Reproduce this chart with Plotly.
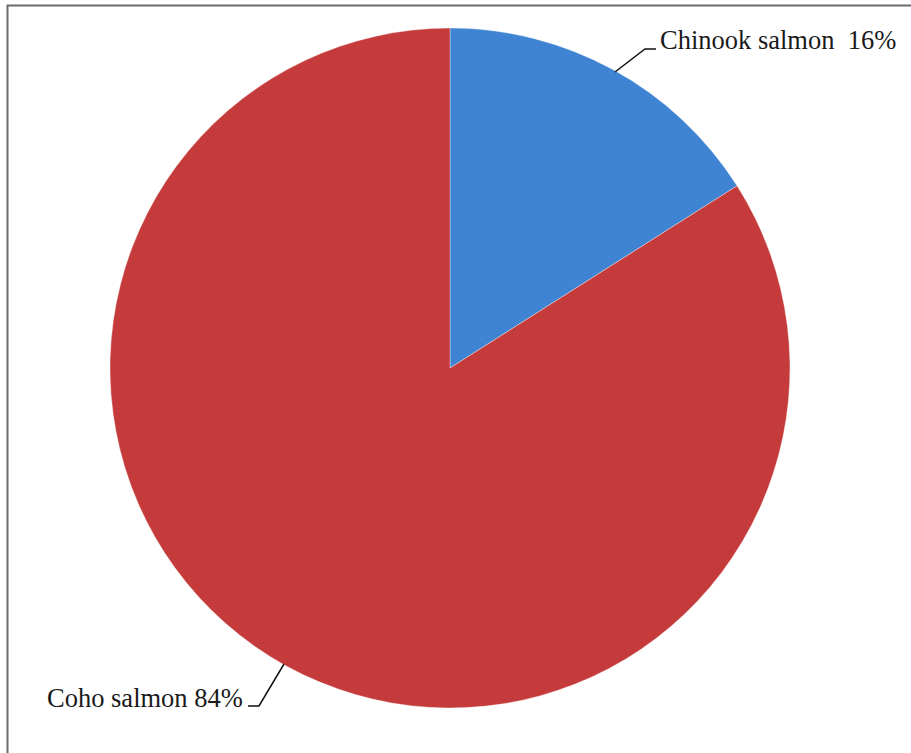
import plotly.graph_objects as go

# Data
categories = ["Chinook salmon", "Coho salmon"]
values = [16, 84]
label_sep = ["  ", " "]
colors = ["#3f83d3", "#c53b3b"]

W, H = 911, 753

def px(x):
    return x / W

def py(y):
    return 1 - y / H

fig = go.Figure()
fig.add_trace(go.Pie(
    labels=categories,
    values=values,
    sort=False,
    direction="clockwise",
    rotation=0,
    textinfo="none",
    hoverinfo="label+percent",
    marker=dict(colors=colors, line=dict(color="rgba(255,255,255,0.6)", width=0.6)),
    domain=dict(x=[px(110), px(790)], y=[py(708), py(28)]),
    showlegend=False,
))

font = dict(family="Liberation Serif", size=26.5, color="#1a1a1a")
labels_txt = [f"{c}{s}{v}%" for c, s, v in zip(categories, label_sep, values)]

annotations = [
    dict(text=labels_txt[0], x=px(658), y=py(40), xref="paper", yref="paper",
         xanchor="left", yanchor="middle", showarrow=False, font=font),
    dict(text=labels_txt[1], x=px(245), y=py(698), xref="paper", yref="paper",
         xanchor="right", yanchor="middle", showarrow=False, font=font),
]

shapes = [
    # frame (left/top visible)
    dict(type="rect", xref="paper", yref="paper", x0=px(7.5), x1=px(W + 20),
         y0=py(H + 20), y1=py(5.5), line=dict(color="#6b6b6b", width=2), fillcolor="rgba(0,0,0,0)"),
    # leader lines
    dict(type="path", xref="paper", yref="paper",
         path=f"M {px(615)} {py(72)} L {px(645)} {py(49)} L {px(656)} {py(49)}",
         line=dict(color="#111111", width=1.5)),
    dict(type="path", xref="paper", yref="paper",
         path=f"M {px(248)} {py(706)} L {px(259)} {py(706)} L {px(284)} {py(664)}",
         line=dict(color="#111111", width=1.5)),
]

fig.update_layout(
    width=W, height=H,
    margin=dict(l=0, r=0, t=0, b=0),
    paper_bgcolor="white",
    plot_bgcolor="white",
    annotations=annotations,
    shapes=shapes,
)

fig.write_html("out.html", config={"displayModeBar": False},
               post_script="document.body.style.margin='0';document.body.style.overflow='hidden';")
